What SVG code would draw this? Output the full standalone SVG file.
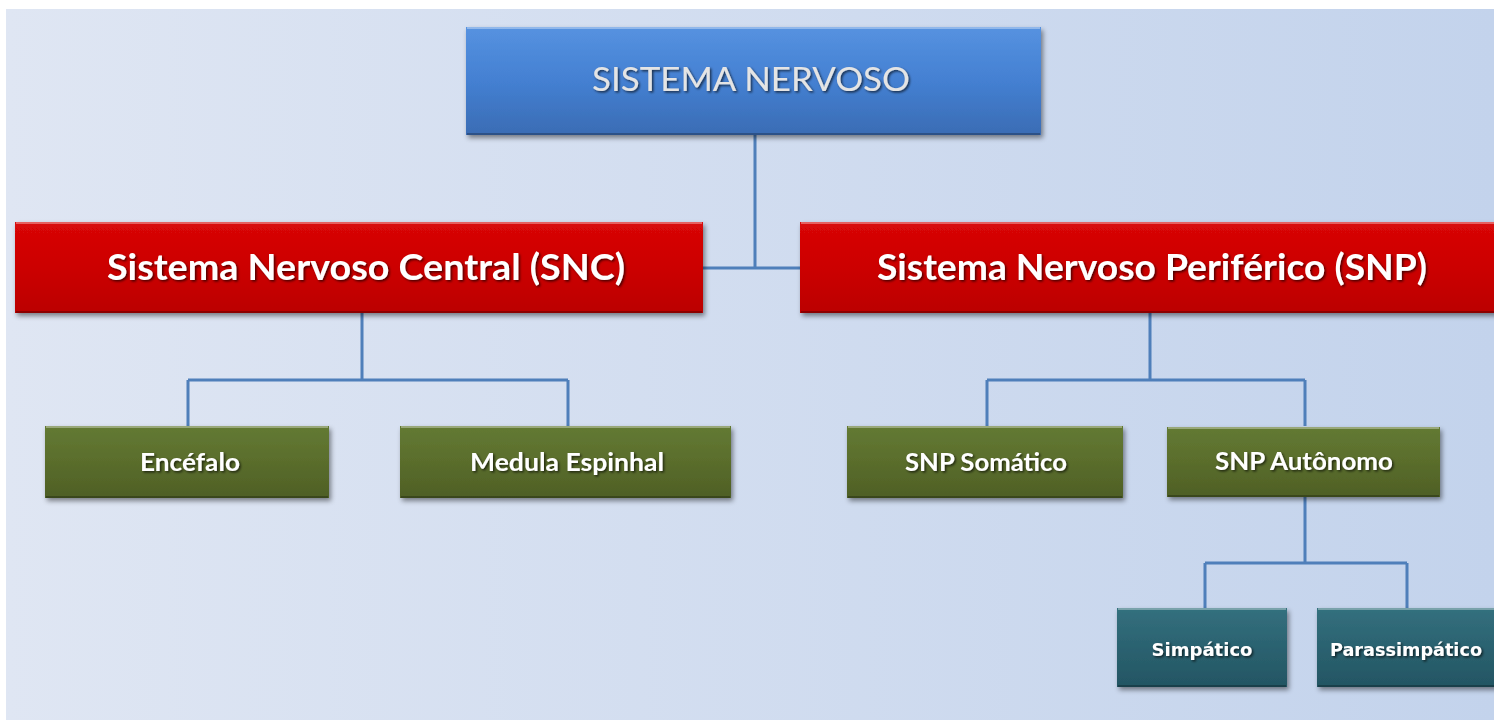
<svg xmlns="http://www.w3.org/2000/svg" width="1494" height="720" viewBox="0 0 1494 720">
<defs>
<linearGradient id="bg" x1="0" y1="0" x2="1" y2="0">
<stop offset="0" stop-color="#dfe6f3"/>
<stop offset="1" stop-color="#c3d3ec"/>
</linearGradient>
<linearGradient id="gBlue" x1="0" y1="0" x2="0" y2="1">
<stop offset="0" stop-color="#5692e0"/>
<stop offset="0.5" stop-color="#4480d2"/>
<stop offset="1" stop-color="#3a6cb4"/>
</linearGradient>
<linearGradient id="gRed" x1="0" y1="0" x2="0" y2="1">
<stop offset="0" stop-color="#d80808"/>
<stop offset="0.5" stop-color="#cc0000"/>
<stop offset="1" stop-color="#bb0000"/>
</linearGradient>
<linearGradient id="gGreen" x1="0" y1="0" x2="0" y2="1">
<stop offset="0" stop-color="#637a33"/>
<stop offset="0.5" stop-color="#5a6d2c"/>
<stop offset="1" stop-color="#4e5f25"/>
</linearGradient>
<linearGradient id="gTeal" x1="0" y1="0" x2="0" y2="1">
<stop offset="0" stop-color="#33707e"/>
<stop offset="0.5" stop-color="#2b6270"/>
<stop offset="1" stop-color="#235563"/>
</linearGradient>
<filter id="shadow" x="-5%" y="-10%" width="112%" height="130%">
<feDropShadow dx="2" dy="3" stdDeviation="2.5" flood-color="#000" flood-opacity="0.45"/>
</filter>
<filter id="tshadow" x="-5%" y="-20%" width="110%" height="150%">
<feDropShadow dx="1.5" dy="1.5" stdDeviation="1" flood-color="#000" flood-opacity="0.65"/>
</filter>
</defs>
<style>
.conn { fill: none; stroke: #4f7fba; stroke-width: 3; }
.hl { fill: none; stroke: #ffffff; stroke-opacity: 0.35; stroke-width: 2; }
.dk { fill: none; stroke: #000000; stroke-opacity: 0.25; stroke-width: 2; }
.t { font-family: Lato, "Open Sans", "Liberation Sans", sans-serif; font-weight: bold; fill: #ffffff; text-anchor: middle; filter: url(#tshadow); }
.tv { font-family: "DejaVu Sans", Verdana, sans-serif; font-weight: bold; fill: #ffffff; text-anchor: middle; filter: url(#tshadow); }
.ttop { font-family: Lato, "Open Sans", "Liberation Sans", sans-serif; font-weight: normal; fill: #e4e4e4; text-anchor: middle; filter: url(#tshadow); }
</style>
<rect x="0" y="0" width="1494" height="720" fill="#ffffff"/>
<rect x="6" y="9" width="1488" height="711" fill="url(#bg)"/>

<g id="connectors">
<path class="conn" d="M755 135 V268 M703 268 H800"/>
<path class="conn" d="M362 313 V380 M188 380 H568 M188 380 V426 M568 380 V426"/>
<path class="conn" d="M1150 313 V380 M987 380 H1305 M987 380 V426 M1305 380 V426"/>
<path class="conn" d="M1305 496 V563 M1205 563 H1407 M1205 563 V609 M1407 563 V609"/>
</g>

<g id="node-sistema-nervoso">
<rect x="466" y="27" width="575" height="108" fill="url(#gBlue)" filter="url(#shadow)"/>
<path class="hl" d="M467 28 H1040"/>
<path class="dk" d="M467 134 H1040"/>
<text class="ttop" x="751" y="91" font-size="32" textLength="318" lengthAdjust="spacingAndGlyphs">SISTEMA NERVOSO</text>
</g>

<g id="node-snc">
<rect x="15" y="222" width="688" height="91" fill="url(#gRed)" filter="url(#shadow)"/>
<path class="hl" d="M16 223 H702"/>
<path class="dk" d="M16 312 H702"/>
<text class="t" x="366" y="280" font-size="36" textLength="518" lengthAdjust="spacingAndGlyphs">Sistema Nervoso Central (SNC)</text>
</g>

<g id="node-snp">
<rect x="800" y="222" width="700" height="91" fill="url(#gRed)" filter="url(#shadow)"/>
<path class="hl" d="M801 223 H1494"/>
<path class="dk" d="M801 312 H1494"/>
<text class="t" x="1152" y="280" font-size="36" textLength="550" lengthAdjust="spacingAndGlyphs">Sistema Nervoso Periférico (SNP)</text>
</g>

<g id="node-encefalo">
<rect x="45" y="426" width="284" height="72" fill="url(#gGreen)" filter="url(#shadow)"/>
<path class="hl" d="M46 427 H328"/>
<path class="dk" d="M46 497 H328"/>
<text class="t" x="190" y="471" font-size="24" textLength="100" lengthAdjust="spacingAndGlyphs">Encéfalo</text>
</g>

<g id="node-medula">
<rect x="400" y="426" width="331" height="72" fill="url(#gGreen)" filter="url(#shadow)"/>
<path class="hl" d="M401 427 H730"/>
<path class="dk" d="M401 497 H730"/>
<text class="t" x="567" y="471" font-size="24" textLength="194" lengthAdjust="spacingAndGlyphs">Medula Espinhal</text>
</g>

<g id="node-snp-somatico">
<rect x="847" y="426" width="276" height="72" fill="url(#gGreen)" filter="url(#shadow)"/>
<path class="hl" d="M848 427 H1122"/>
<path class="dk" d="M848 497 H1122"/>
<text class="t" x="986" y="471" font-size="24" textLength="162" lengthAdjust="spacingAndGlyphs">SNP Somático</text>
</g>

<g id="node-snp-autonomo">
<rect x="1167" y="427" width="273" height="70" fill="url(#gGreen)" filter="url(#shadow)"/>
<path class="hl" d="M1168 428 H1439"/>
<path class="dk" d="M1168 496 H1439"/>
<text class="t" x="1304" y="470" font-size="24" textLength="178" lengthAdjust="spacingAndGlyphs">SNP Autônomo</text>
</g>

<g id="node-simpatico">
<rect x="1117" y="608" width="170" height="79" fill="url(#gTeal)" filter="url(#shadow)"/>
<path class="hl" d="M1118 609 H1286"/>
<path class="dk" d="M1118 686 H1286"/>
<text class="tv" x="1202" y="656" font-size="18" textLength="101" lengthAdjust="spacingAndGlyphs">Simpático</text>
</g>

<g id="node-parassimpatico">
<rect x="1317" y="608" width="180" height="79" fill="url(#gTeal)" filter="url(#shadow)"/>
<path class="hl" d="M1318 609 H1494"/>
<path class="dk" d="M1318 686 H1494"/>
<text class="tv" x="1406" y="656" font-size="18" textLength="152" lengthAdjust="spacingAndGlyphs">Parassimpático</text>
</g>
</svg>
